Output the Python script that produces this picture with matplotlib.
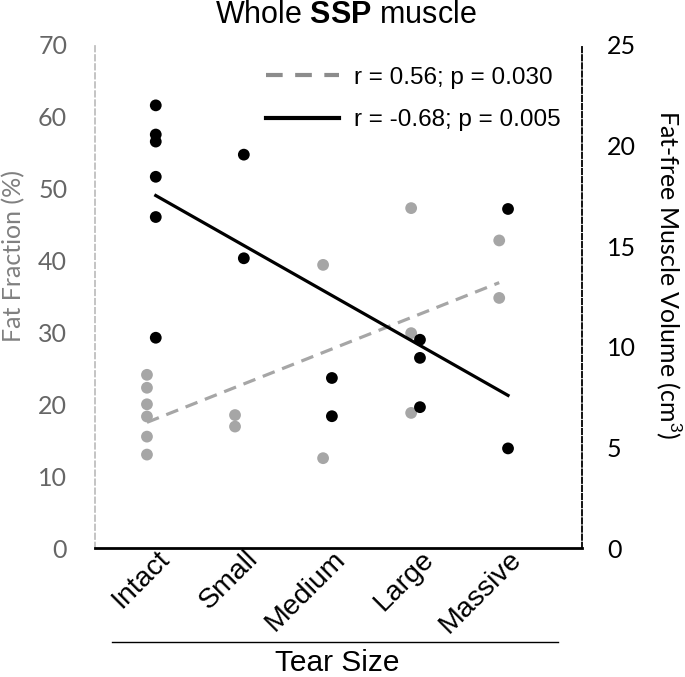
import numpy as np
import matplotlib
matplotlib.use("Agg")
import matplotlib.pyplot as plt
from matplotlib.transforms import ScaledTranslation

plt.rcParams["font.family"] = ["Liberation Sans", "DejaVu Sans"]
plt.rcParams["mathtext.fontset"] = "custom"
plt.rcParams["mathtext.rm"] = "Liberation Sans"
plt.rcParams["mathtext.bf"] = "Liberation Sans:bold"

categories = ["Intact", "Small", "Medium", "Large", "Massive"]

# fat fraction (%) - left axis, grey
fat_group = [0, 0, 0, 0, 0, 0, 1, 1, 2, 2, 3, 3, 3, 4, 4]
fat_values = [24.1, 22.3, 20.0, 18.3, 15.5, 13.0, 18.5, 16.9,
              39.4, 12.5, 47.3, 29.9, 18.8, 42.8, 34.8]

# fat-free muscle volume (cm3) - right axis, black
vol_group = [0, 0, 0, 0, 0, 0, 1, 1, 2, 2, 3, 3, 3, 4, 4]
vol_values = [22.0, 20.55, 20.2, 18.45, 16.45, 10.45, 19.55, 14.4,
              8.45, 6.55, 10.35, 9.45, 7.0, 16.85, 4.95]

fat_label = "r = 0.56; p = 0.030"
vol_label = "r = -0.68; p = 0.005"

grey = "#a6a6a6"
off = 0.05
W, H = 685, 677

fig = plt.figure(figsize=(6.85, 6.77), dpi=100)
ax = fig.add_axes([95 / W, 1 - 548 / H, 487 / W, 503 / H])
ax2 = ax.twinx()

fx = np.array(fat_group) - off
vx = np.array(vol_group) + off

ax.scatter(fx, fat_values, s=72, color=grey, edgecolors="none", zorder=3)
k, b = np.polyfit(fx, fat_values, 1)
xs = np.array([fx.min(), fx.max()])
ax.plot(xs, k * xs + b, color=grey, lw=2.3, ls=(0, (4, 2.5)), zorder=2)

ax2.scatter(vx, vol_values, s=72, color="black", edgecolors="none", zorder=3)
k2, b2 = np.polyfit(vx, vol_values, 1)
xs2 = np.array([vx.min(), vx.max()])
ax2.plot(xs2, k2 * xs2 + b2, color="black", lw=2.3, zorder=2)

ax.set_xlim(-0.64, 4.89)
ax.set_ylim(0, 70)
ax2.set_ylim(0, 25)
ax.set_yticks(range(0, 71, 10))
ax2.set_yticks(range(0, 26, 5))
ax.set_xticks(range(len(categories)))
ax.set_xticklabels([])
ax.tick_params(axis="x", length=0)
shift = ScaledTranslation(5 / 100, 2 / 100, fig.dpi_scale_trans)
for i, c in enumerate(categories):
    ax.text(i, 0, c, transform=ax.get_xaxis_transform() + shift, rotation=45,
            ha="right", va="top", rotation_mode="anchor", fontsize=20.5)
ax.tick_params(axis="y", length=0, pad=20, labelsize=18, labelcolor="#666666")
ax2.tick_params(axis="y", length=0, pad=18, labelsize=18, labelcolor="black")
for lab in ax.get_yticklabels() + ax2.get_yticklabels():
    lab.set_fontfamily("Lato")

for a in (ax, ax2):
    for s in a.spines.values():
        s.set_visible(False)
ax.spines["bottom"].set_visible(True)
ax.spines["bottom"].set_linewidth(2)
ax.spines["left"].set_visible(True)
ax.spines["left"].set_color("#bfbfbf")
ax.spines["left"].set_linestyle((0, (3, 2)))
ax.spines["left"].set_linewidth(1.3)
ax2.spines["right"].set_visible(True)
ax2.spines["right"].set_color("black")
ax2.spines["right"].set_linestyle((0, (3, 1.5)))
ax2.spines["right"].set_linewidth(1.3)

fig.text(14 / W, 1 - 256 / H, "Fat Fraction (%)", fontsize=18, color="#808080",
         rotation=90, ha="center", va="center", family="Lato")
fig.text(669 / W, 1 - 275 / H, "Fat-free Muscle Volume (cm$^3$)", fontsize=18,
         rotation=270, ha="center", va="center", family="Lato")
fig.text(346 / W, 1 - 15 / H, r"Whole $\bf{SSP}$ muscle", fontsize=22,
         ha="center", va="center")

# tear size line + label
fig.add_artist(plt.Line2D([112 / W, 558 / W], [1 - 642 / H, 1 - 642 / H],
                          color="black", lw=1))
fig.text(337 / W, 1 - 663 / H, "Tear Size", fontsize=21.5, ha="center", va="center")

h1 = plt.Line2D([], [], color="#8c8c8c", lw=3, ls=(0, (4, 3)))
h2 = plt.Line2D([], [], color="black", lw=3)
ax2.legend([h1, h2], [fat_label, vol_label], loc="upper right", frameon=False,
           fontsize=17.5, handlelength=3.0, handletextpad=0.6, labelspacing=0.85,
           borderaxespad=0, bbox_to_anchor=(1 - 12 / 487, 1 - 12 / 503))

fig.savefig("out.png", dpi=100)
